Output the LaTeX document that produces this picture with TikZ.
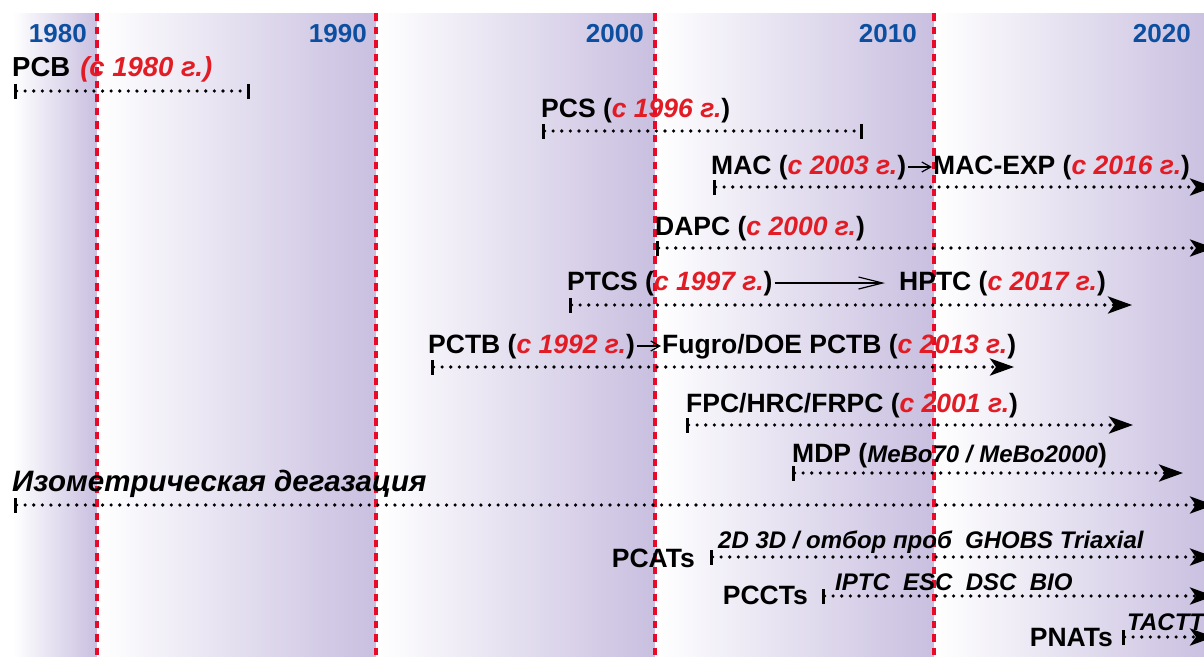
\documentclass[tikz,border=0pt]{standalone}
\usepackage{fontspec}
\setmainfont{Liberation Sans}
\usetikzlibrary{arrows.meta}
\definecolor{lav}{RGB}{201,191,224}
\definecolor{dashred}{RGB}{232,10,40}
\definecolor{datered}{RGB}{226,28,36}
\definecolor{yrblue}{RGB}{12,78,160}
\newcommand\dt[1]{\textcolor{datered}{\itshape #1}}
\tikzset{
  band/.style={left color=white,right color=lav,draw=none},
  vdash/.style={draw=dashred,line width=3.2pt,dash pattern=on 7.5pt off 6pt},
  yr/.style={anchor=base east,inner sep=0pt,text=yrblue,font=\fontsize{26}{30}\selectfont\bfseries},
  lab/.style={anchor=base west,inner sep=0pt,font=\fontsize{26.5}{30}\selectfont\bfseries},
  labr/.style={anchor=base east,inner sep=0pt,font=\fontsize{26.5}{30}\selectfont\bfseries},
  sub/.style={anchor=base west,inner sep=0pt,font=\fontsize{24}{28}\selectfont\bfseries\itshape},
  tl/.style={line width=3.6pt,dash pattern=on 0pt off 8.6pt,line cap=round},
  tlarr/.style={tl,{Bar[width=15pt,line width=3.4pt]}-{Stealth[length=24pt,width=17pt,inset=6pt]}},
  tlbar/.style={tl,{Bar[width=15pt,line width=3.4pt]}-{Bar[width=15pt,line width=3.4pt]}},
  thinarr/.style={line width=1.2pt,-{Straight Barb[length=24pt,width=12pt,line width=1.2pt]}},
  txtarr/.style={line width=1.2pt,-{Straight Barb[length=9pt,width=10pt,line width=1.2pt]}},
}
\begin{document}
\begin{tikzpicture}[x=1pt,y=-1pt]
\useasboundingbox (0,0) rectangle (1204,656);
\clip (0,0) rectangle (1204,656);
% bands
\shade[band] (13,13) rectangle (97,656);
\shade[band] (97,13) rectangle (376,656);
\shade[band] (376,13) rectangle (655,656);
\shade[band] (655,13) rectangle (934,656);
\shade[band] (934,13) rectangle (1213,656);
% decade lines
\foreach \x/\n in {97/a,376/b,655/c,934/d}{
  \coordinate (top\n) at (\x,13);
  \coordinate (bot\n) at (\x,656);
  \draw[vdash] (top\n) -- (bot\n);
}
% years
\node[yr] (y1980) at (87,42) {1980};
\node[yr] (y1990) at (367,42) {1990};
\node[yr] (y2000) at (644,42) {2000};
\node[yr] (y2010) at (917,42) {2010};
\node[yr] (y2020) at (1191,42) {2020};
% rows
\node[lab] (pcb) at (12,76) {\fontsize{27.5}{30}\selectfont PCB\hspace{10pt}\dt{(с 1980 г.)}};
\coordinate (pcbS) at (14,91); \coordinate (pcbE) at (250,91);
\draw[tlbar] (pcbS) -- (pcbE);

\node[lab] (pcs) at (541,117) {PCS (\dt{с 1996 г.})};
\coordinate (pcsS) at (542,131); \coordinate (pcsE) at (863,131);
\draw[tlbar] (pcsS) -- (pcsE);

\node[lab] (mac) at (711,174) {MAC (\dt{с 2003 г.})};
\node[lab] (macexp) at (933,174) {MAC-EXP (\dt{с 2016 г.})};
\draw[txtarr,shorten <=2pt,shorten >=1pt] ([yshift=7pt]mac.base east) -- ([yshift=7pt]macexp.base west);
\coordinate (macS) at (713,187); \coordinate (macE) at (1214,187);
\draw[tlarr] (macS) -- (macE);

\node[lab] (dapc) at (655,235) {DAPC (\dt{с 2000 г.})};
\coordinate (dapcS) at (656,248); \coordinate (dapcE) at (1214,248);
\draw[tlarr] (dapcS) -- (dapcE);

\node[lab] (ptcs) at (567,290) {PTCS (\dt{с 1997 г.})};
\node[lab] (hptc) at (899,290) {HPTC (\dt{с 2017 г.})};
\draw[thinarr,shorten <=2pt,shorten >=14pt] ([yshift=7pt]ptcs.base east) -- ([yshift=7pt]hptc.base west);
\coordinate (ptcsS) at (569,305); \coordinate (ptcsE) at (1132,305);
\draw[tlarr] (ptcsS) -- (ptcsE);

\node[lab] (pctb) at (428,353) {PCTB (\dt{с 1992 г.})};
\node[lab] (fugro) at (662,353) {Fugro/DOE PCTB (\dt{с 2013 г.})};
\draw[txtarr,shorten <=2pt,shorten >=1pt] ([yshift=7pt]pctb.base east) -- ([yshift=7pt]fugro.base west);
\coordinate (pctbS) at (431,367); \coordinate (pctbE) at (1014,367);
\draw[tlarr] (pctbS) -- (pctbE);

\node[lab] (fpc) at (686,412) {FPC/HRC/FRPC (\dt{с 2001 г.})};
\coordinate (fpcS) at (686,425); \coordinate (fpcE) at (1133,425);
\draw[tlarr] (fpcS) -- (fpcE);

\node[lab] (mdp) at (792,462) {MDP ({\fontsize{24}{28}\selectfont\itshape MeBo70 / MeBo2000})};
\coordinate (mdpS) at (792,473); \coordinate (mdpE) at (1183,473);
\draw[tlarr] (mdpS) -- (mdpE);

\node[lab,font=\fontsize{29.5}{32}\selectfont\bfseries\itshape] (iso) at (12,491) {Изометрическая дегазация};
\coordinate (isoS) at (14,505); \coordinate (isoE) at (1214,505);
\draw[tlarr] (isoS) -- (isoE);

\node[labr] (pcat) at (695,567) {PCATs};
\node[sub] (pcatT) at (718,548) {2D 3D / отбор проб\ \ GHOBS Triaxial};
\coordinate (pcatS) at (710,557); \coordinate (pcatE) at (1214,557);
\draw[tlarr] (pcatS) -- (pcatE);

\node[labr] (pcct) at (808,604) {PCCTs};
\node[sub] (pcctT) at (835,590) {IPTC\ \ ESC\ \ DSC\ \ BIO};
\coordinate (pcctS) at (822,596); \coordinate (pcctE) at (1214,596);
\draw[tlarr] (pcctS) -- (pcctE);

\node[labr] (pnat) at (1113,646) {PNATs};
\node[sub] (pnatT) at (1127,630) {TACTT};
\coordinate (pnatS) at (1122,637); \coordinate (pnatE) at (1214,637);
\draw[tlarr] (pnatS) -- (pnatE);
\end{tikzpicture}
\end{document}
